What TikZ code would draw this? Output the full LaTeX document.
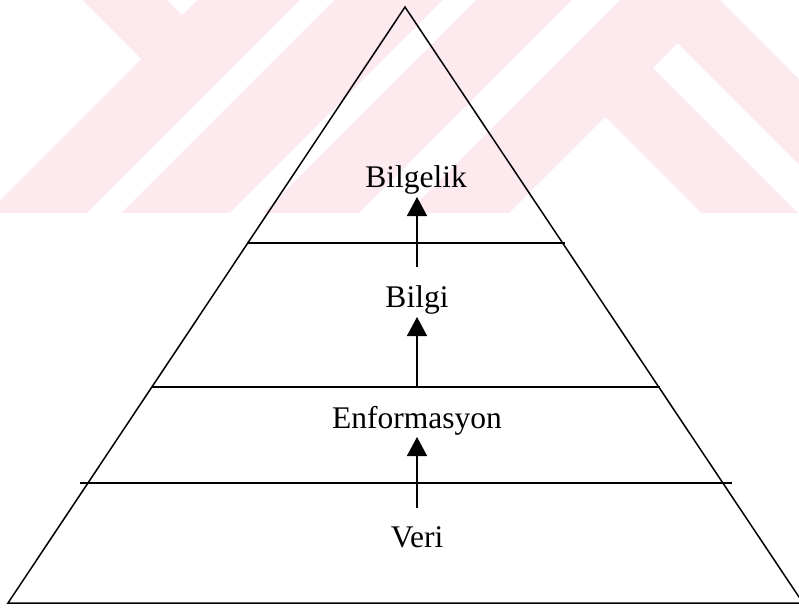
\documentclass[tikz,border=0pt]{standalone}
\usepackage{fontspec}
\setmainfont{Liberation Serif}
\usetikzlibrary{arrows.meta}
\definecolor{wm}{RGB}{252,234,238}
\begin{document}
\begin{tikzpicture}[x=1pt,y=-1pt,
  lbl/.style={font=\fontsize{31.5}{36}\selectfont, inner sep=0pt, anchor=base},
  uparrow/.style={-{Triangle[length=19pt,width=20pt]}, line width=1.5pt},
  level/.style={line width=1.5pt},
  edge/.style={line width=1.5pt, line join=miter}]
\useasboundingbox (0,0) rectangle (799,608);
\clip (0,0) rectangle (799,608);
% watermark
\begin{scope}
\clip (0,0) rectangle (799,213);
\fill[wm] (0,0) rectangle (799,213);
\fill[white] (72,-10) -- (141,59) -- (-20,220) -- (-20,-10) -- cycle;
\fill[white] (157,-10) -- (182,15) -- (207,-10) -- cycle;
\fill[white] (310,-10) -- (344,-10) -- (114,220) -- (80,220) -- cycle;
\fill[white] (453,-10) -- (486,-10) -- (256,220) -- (223,220) -- cycle;
\fill[white] (582,-10) -- (630,-10) -- (400,220) -- (352,220) -- cycle;
\fill[white] (653,68) -- (677.5,43.5) -- (854,220) -- (805,220) -- cycle;
\fill[white] (605,117) -- (708,220) -- (502,220) -- cycle;
\fill[white] (710,-10) -- (830,-10) -- (830,110) -- cycle;
\end{scope}
% pyramid
\coordinate (apex) at (405,7);
\coordinate (bl) at (8,603);
\coordinate (br) at (803,603);
\draw[edge] (apex) -- (bl) -- (br) -- cycle;
\coordinate (l1a) at (247,243); \coordinate (l1b) at (565,243);
\coordinate (l2a) at (152,387); \coordinate (l2b) at (660,387);
\coordinate (l3a) at (80,483);  \coordinate (l3b) at (732,483);
\draw[level] (l1a) -- (l1b);
\draw[level] (l2a) -- (l2b);
\draw[level] (l3a) -- (l3b);
% labels
\node[lbl] (bilgelik) at (416,187) {Bilgelik};
\node[lbl] (bilgi) at (417,307) {Bilgi};
\node[lbl] (enf) at (417,428) {Enformasyon};
\node[lbl] (veri) at (417,547) {Veri};
% arrows
\coordinate (t1) at (417,267);
\coordinate (t2) at (417,387);
\coordinate (t3) at (417,508);
\draw[uparrow] (t1) -- ([yshift=-10pt]bilgelik.base -| t1);
\draw[uparrow] (t2) -- ([yshift=-10pt]bilgi.base -| t2);
\draw[uparrow] (t3) -- ([yshift=-9pt]enf.base -| t3);
\end{tikzpicture}
\end{document}
